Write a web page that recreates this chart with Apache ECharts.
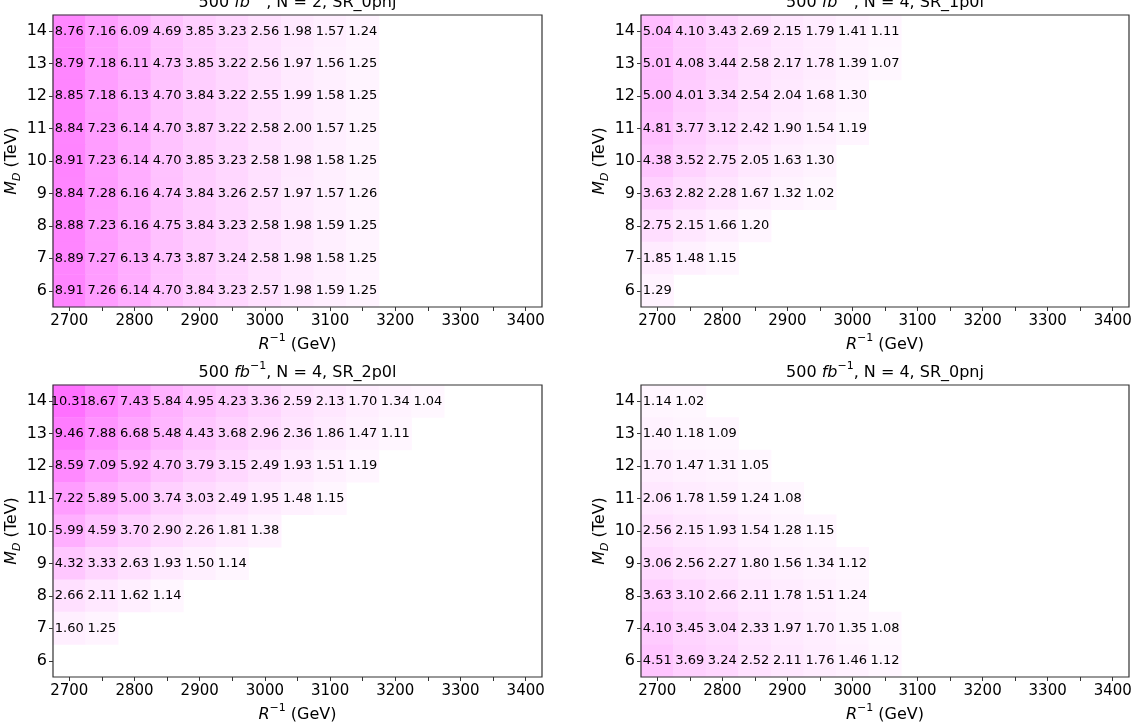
<!DOCTYPE html>
<html>
<head>
<meta charset="utf-8">
<script src="https://cdn.jsdelivr.net/npm/echarts@6/dist/echarts.min.js"></script>
<style>
  html, body { margin: 0; padding: 0; background: #ffffff; }
  #chart { width: 1143px; height: 724px; }
</style>
</head>
<body>
<div id="chart"></div>
<script>
// Compactification scale R^-1 (GeV): one column per 50 GeV
const rInvGeV = ['2700', '2750', '2800', '2850', '2900', '2950', '3000', '3050',
                 '3100', '3150', '3200', '3250', '3300', '3350', '3400'];
// Fundamental Planck scale M_D (TeV), bottom to top
const mDTeV = ['6', '7', '8', '9', '10', '11', '12', '13', '14'];
// Row order of the value tables below (top row first)
const rowOrder = ['14', '13', '12', '11', '10', '9', '8', '7', '6'];

// Each row starts at R^-1 = 2700 GeV
const n2Sr0pnj = [
  [8.76, 7.16, 6.09, 4.69, 3.85, 3.23, 2.56, 1.98, 1.57, 1.24],
  [8.79, 7.18, 6.11, 4.73, 3.85, 3.22, 2.56, 1.97, 1.56, 1.25],
  [8.85, 7.18, 6.13, 4.70, 3.84, 3.22, 2.55, 1.99, 1.58, 1.25],
  [8.84, 7.23, 6.14, 4.70, 3.87, 3.22, 2.58, 2.00, 1.57, 1.25],
  [8.91, 7.23, 6.14, 4.70, 3.85, 3.23, 2.58, 1.98, 1.58, 1.25],
  [8.84, 7.28, 6.16, 4.74, 3.84, 3.26, 2.57, 1.97, 1.57, 1.26],
  [8.88, 7.23, 6.16, 4.75, 3.84, 3.23, 2.58, 1.98, 1.59, 1.25],
  [8.89, 7.27, 6.13, 4.73, 3.87, 3.24, 2.58, 1.98, 1.58, 1.25],
  [8.91, 7.26, 6.14, 4.70, 3.84, 3.23, 2.57, 1.98, 1.59, 1.25]
];
const n4Sr1p0l = [
  [5.04, 4.10, 3.43, 2.69, 2.15, 1.79, 1.41, 1.11],
  [5.01, 4.08, 3.44, 2.58, 2.17, 1.78, 1.39, 1.07],
  [5.00, 4.01, 3.34, 2.54, 2.04, 1.68, 1.30],
  [4.81, 3.77, 3.12, 2.42, 1.90, 1.54, 1.19],
  [4.38, 3.52, 2.75, 2.05, 1.63, 1.30],
  [3.63, 2.82, 2.28, 1.67, 1.32, 1.02],
  [2.75, 2.15, 1.66, 1.20],
  [1.85, 1.48, 1.15],
  [1.29]
];
const n4Sr2p0l = [
  [10.31, 8.67, 7.43, 5.84, 4.95, 4.23, 3.36, 2.59, 2.13, 1.70, 1.34, 1.04],
  [9.46, 7.88, 6.68, 5.48, 4.43, 3.68, 2.96, 2.36, 1.86, 1.47, 1.11],
  [8.59, 7.09, 5.92, 4.70, 3.79, 3.15, 2.49, 1.93, 1.51, 1.19],
  [7.22, 5.89, 5.00, 3.74, 3.03, 2.49, 1.95, 1.48, 1.15],
  [5.99, 4.59, 3.70, 2.90, 2.26, 1.81, 1.38],
  [4.32, 3.33, 2.63, 1.93, 1.50, 1.14],
  [2.66, 2.11, 1.62, 1.14],
  [1.60, 1.25],
  []
];
const n4Sr0pnj = [
  [1.14, 1.02],
  [1.40, 1.18, 1.09],
  [1.70, 1.47, 1.31, 1.05],
  [2.06, 1.78, 1.59, 1.24, 1.08],
  [2.56, 2.15, 1.93, 1.54, 1.28, 1.15],
  [3.06, 2.56, 2.27, 1.80, 1.56, 1.34, 1.12],
  [3.63, 3.10, 2.66, 2.11, 1.78, 1.51, 1.24],
  [4.10, 3.45, 3.04, 2.33, 1.97, 1.70, 1.35, 1.08],
  [4.51, 3.69, 3.24, 2.52, 2.11, 1.76, 1.46, 1.12]
];

const panelTables = [n2Sr0pnj, n4Sr1p0l, n4Sr2p0l, n4Sr0pnj];
const panelN = ['2', '4', '4', '4'];
const panelRegion = ['SR_0pnj', 'SR_1p0l', 'SR_2p0l', 'SR_0pnj'];
const lumi = '500';

const FONT = 'DejaVu Sans';
const INK = '#000000';
const FRAME = '#333333';

// Plot rectangles of the 2x2 layout
const boxes = [
  { left: 53,  top: 15,  width: 489, height: 292 },
  { left: 641, top: 15,  width: 488, height: 292 },
  { left: 53,  top: 385, width: 489, height: 292 },
  { left: 641, top: 385, width: 488, height: 292 }
];

function toCells(table) {
  const out = [];
  table.forEach((vals, i) => {
    const yi = mDTeV.indexOf(rowOrder[i]);
    vals.forEach((v, j) => out.push([j, yi, v]));
  });
  return out;
}

const supRich = {
  n: { fontFamily: FONT, fontSize: 16, color: INK },
  i: { fontFamily: FONT, fontSize: 16, fontStyle: 'italic', color: INK },
  s: { fontFamily: FONT, fontSize: 11, color: INK, padding: [0, 0, 12, 0] },
  d: { fontFamily: FONT, fontSize: 11, fontStyle: 'italic', color: INK, padding: [10, 0, 0, 0] }
};

const grid = boxes.map(b => ({
  left: b.left, top: b.top, width: b.width, height: b.height,
  show: true, borderColor: FRAME, borderWidth: 1.2,
  backgroundColor: 'transparent', z: 5
}));

const xAxis = boxes.map((b, k) => ({
  type: 'category', gridIndex: k, data: rInvGeV,
  name: '{i|R}{s|\u22121}{n| (GeV)}',
  nameLocation: 'middle', nameGap: 26,
  nameTextStyle: { rich: supRich },
  axisLine: { show: false },
  axisTick: { show: true, interval: 0, alignWithLabel: true, length: 4,
              lineStyle: { color: FRAME, width: 1 } },
  axisLabel: { interval: 1, margin: 7, fontSize: 15, fontFamily: FONT, color: INK },
  splitLine: { show: false }
}));

const yAxis = boxes.map((b, k) => ({
  type: 'category', gridIndex: k, data: mDTeV,
  name: '{i|M}{d|D}{n| (TeV)}',
  nameLocation: 'middle', nameGap: 30, nameRotate: 90,
  nameTextStyle: { rich: supRich },
  axisLine: { show: false },
  axisTick: { show: true, interval: 0, alignWithLabel: true, length: 4,
              lineStyle: { color: FRAME, width: 1 } },
  axisLabel: { margin: 6, fontSize: 16, fontFamily: FONT, color: INK },
  splitLine: { show: false }
}));

const series = panelTables.map((t, k) => ({
  type: 'heatmap', xAxisIndex: k, yAxisIndex: k, z: 1,
  data: toCells(t),
  itemStyle: { borderWidth: 0 },
  label: {
    show: true,
    formatter: p => p.value[2].toFixed(2),
    fontFamily: FONT, fontSize: 13, color: INK
  },
  emphasis: { disabled: true }
}));

const graphic = boxes.map((b, k) => ({
  type: 'text',
  x: b.left + b.width / 2,
  y: b.top - 1,
  z: 10,
  style: {
    text: '{n|' + lumi + ' }{i|fb}{s|\u22121}{n|, N = ' + panelN[k] + ', ' + panelRegion[k] + '}',
    rich: supRich,
    align: 'center',
    verticalAlign: 'bottom'
  }
}));

const chart = echarts.init(document.getElementById('chart'), null, { renderer: 'canvas' });
chart.setOption({
  animation: false,
  backgroundColor: '#ffffff',
  grid, xAxis, yAxis, series, graphic,
  visualMap: {
    show: false, type: 'continuous', dimension: 2,
    seriesIndex: [0, 1, 2, 3],
    min: 0.5, max: 18,
    inRange: { color: ['#ffffff', '#ff00ff'] }
  }
});
</script>
</body>
</html>
